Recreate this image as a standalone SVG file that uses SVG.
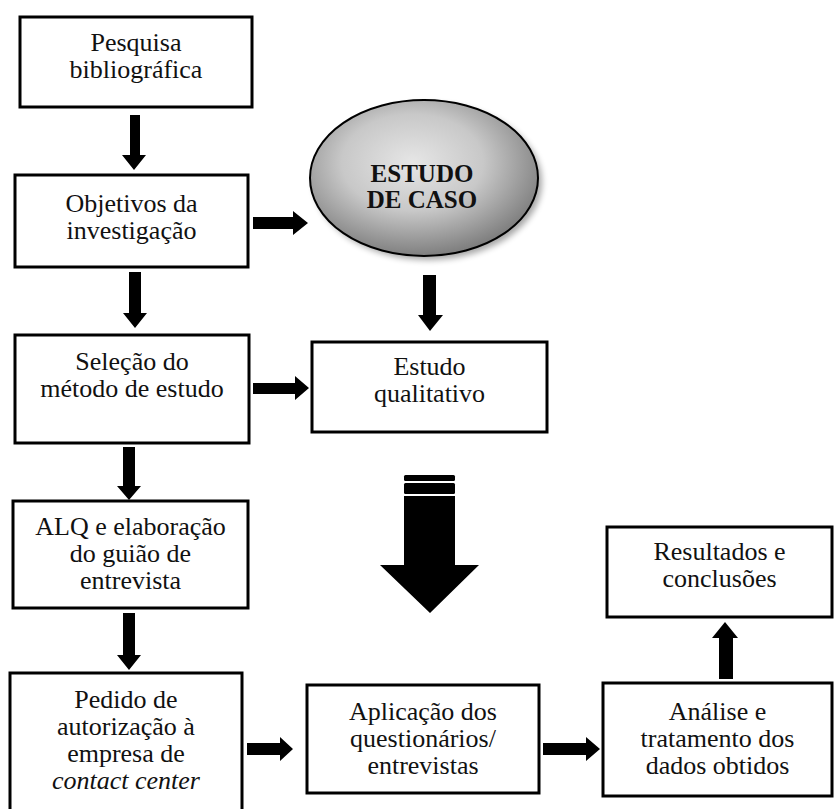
<svg xmlns="http://www.w3.org/2000/svg" width="834" height="809" viewBox="0 0 834 809">
<defs>
<style>
.box{fill:#fff;stroke:#000;stroke-width:3}
.t{font-family:"Liberation Serif","Times New Roman",serif;font-size:26px;fill:#111;text-anchor:middle}
.b{font-weight:bold;font-size:25px}
.arr{fill:#000}
</style>
<radialGradient id="g" cx="0.45" cy="0.4" r="0.62">
<stop offset="0" stop-color="#e6e6e6"/>
<stop offset="0.5" stop-color="#c8c8c8"/>
<stop offset="1" stop-color="#7a7a7a"/>
</radialGradient>
<filter id="sh" x="-20%" y="-20%" width="140%" height="140%">
<feGaussianBlur stdDeviation="3"/>
</filter>
</defs>
<rect width="834" height="809" fill="#fff"/>

<g id="connectors">
<polygon class="arr" points="130,115 140,115 140,155 146,155 134,170 122,155 130,155"/>
<polygon class="arr" points="129,272 141,272 141,313 147,313 135,328 123,313 129,313"/>
<polygon class="arr" points="123,447 135,447 135,486 141,486 129,500 117,486 123,486"/>
<polygon class="arr" points="123,613 135,613 135,655 141,655 129,670 117,655 123,655"/>
<polygon class="arr" points="253,217 293,217 293,211 308,223 293,235 293,229 253,229"/>
<polygon class="arr" points="423,275 436,275 436,315 443,315 430,331 418,315 423,315"/>
<polygon class="arr" points="253,383 295,383 295,376 309,388 295,400 295,394 253,394"/>
<polygon class="arr" points="247,743 280,743 280,737 293,749 280,761 280,755 247,755"/>
<polygon class="arr" points="543,743 586,743 586,737 600,749 586,761 586,755 543,755"/>
<polygon class="arr" points="719,679 733,679 733,638 738,638 725,622 712,638 719,638"/>
<g id="big-arrow">
<rect class="arr" x="404" y="475" width="51" height="6" rx="1.5"/>
<rect class="arr" x="404" y="483" width="51" height="11" rx="1.5"/>
<polygon class="arr" points="404,496 455,496 455,565 479,565 430,613 380,565 404,565"/>
</g>
</g>

<g id="n1">
<rect class="box" x="20" y="17" width="232" height="90"/>
<text class="t" x="136" y="51">Pesquisa</text>
<text class="t" x="136" y="78">bibliográfica</text>
</g>
<g id="n2">
<rect class="box" x="15" y="175" width="233" height="92"/>
<text class="t" x="131.5" y="212">Objetivos da</text>
<text class="t" x="131.5" y="239">investigação</text>
</g>
<g id="n-caso">
<ellipse cx="428" cy="182" rx="114" ry="78" fill="#000" opacity="0.35" filter="url(#sh)"/>
<ellipse cx="424" cy="178" rx="114" ry="78" fill="url(#g)" stroke="#000" stroke-width="2"/>
<text class="t b" x="422" y="182">ESTUDO</text>
<text class="t b" x="422" y="208">DE CASO</text>
</g>
<g id="n3">
<rect class="box" x="15" y="335" width="234" height="108"/>
<text class="t" x="132" y="370">Seleção do</text>
<text class="t" x="132" y="397">método de estudo</text>
</g>
<g id="n4">
<rect class="box" x="312" y="342" width="235" height="90"/>
<text class="t" x="429.5" y="375">Estudo</text>
<text class="t" x="429.5" y="402">qualitativo</text>
</g>
<g id="n5">
<rect class="box" x="13" y="501" width="235" height="107"/>
<text class="t" x="130.5" y="535">ALQ e elaboração</text>
<text class="t" x="130.5" y="562">do guião de</text>
<text class="t" x="130.5" y="589">entrevista</text>
</g>
<g id="n6">
<rect class="box" x="10" y="673" width="232" height="145"/>
<text class="t" x="126" y="708">Pedido de</text>
<text class="t" x="126" y="735">autorização à</text>
<text class="t" x="126" y="762">empresa de</text>
<text class="t" x="126" y="789" font-style="italic">contact center</text>
</g>
<g id="n7">
<rect class="box" x="307" y="685" width="232" height="108"/>
<text class="t" x="423" y="720">Aplicação dos</text>
<text class="t" x="423" y="747">questionários/</text>
<text class="t" x="423" y="774">entrevistas</text>
</g>
<g id="n8">
<rect class="box" x="603" y="683" width="229" height="113"/>
<text class="t" x="717.5" y="720">Análise e</text>
<text class="t" x="717.5" y="747">tratamento dos</text>
<text class="t" x="717.5" y="774">dados obtidos</text>
</g>
<g id="n9">
<rect class="box" x="607" y="527" width="225" height="90"/>
<text class="t" x="719.5" y="560">Resultados e</text>
<text class="t" x="719.5" y="587">conclusões</text>
</g>
</svg>
